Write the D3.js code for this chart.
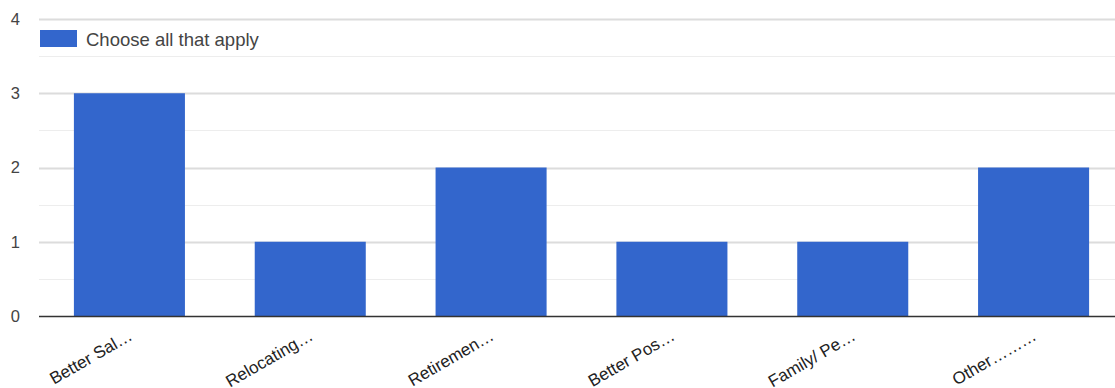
<!DOCTYPE html>
<html><head><meta charset="utf-8">
<script src="https://cdn.jsdelivr.net/npm/d3@7"></script>
<style>body{margin:0;background:#fff}svg{display:block}</style>
</head><body>
<script>
const categories = ["Better Sal…", "Relocating…", "Retiremen…", "Better Pos…", "Family/ Pe…", "Other………"];
const values = [3, 1, 2, 1, 1, 2];
const yTicks = [0, 1, 2, 3, 4];
const seriesName = "Choose all that apply";

(function () {
const W = 1115, H = 388;
const FONT = "Liberation Sans, Arial, sans-serif";
const svg = d3.select("body").append("svg").attr("width", W).attr("height", H);
const pLeft = 39, pRight = 1124, pTop = 19, pBottom = 316;
const x = d3.scaleBand().domain(categories).range([pLeft, pRight]).paddingInner(0.386).paddingOuter(0.193);
const y = d3.scaleLinear().domain([0, 4]).range([pBottom, pTop]);

// minor gridlines
svg.append("g").selectAll("line").data(d3.range(0.5, 4, 1)).join("line")
  .attr("x1", pLeft).attr("x2", W).attr("y1", d => Math.round(y(d)) + 0.5).attr("y2", d => Math.round(y(d)) + 0.5)
  .attr("stroke", "#ededed").attr("stroke-width", 1);
// major gridlines
svg.append("g").selectAll("line").data(yTicks.filter(d => d > 0)).join("line")
  .attr("x1", pLeft).attr("x2", W).attr("y1", d => Math.round(y(d)) + 0.5).attr("y2", d => Math.round(y(d)) + 0.5)
  .attr("stroke", "#dcdcdc").attr("stroke-width", 2);

// y labels
svg.append("g").selectAll("text").data(yTicks).join("text")
  .attr("x", 20).attr("y", d => y(d)).attr("dy", "0.35em")
  .attr("text-anchor", "end")
  .attr("font-family", FONT).attr("font-size", 16.5).attr("fill", "#444")
  .text(d => d);

// bars
svg.append("g").selectAll("rect").data(values).join("rect")
  .attr("x", (d, i) => x(categories[i])).attr("width", x.bandwidth())
  .attr("y", d => y(d)).attr("height", d => y(0) - y(d))
  .attr("fill", "#3366cc");

// baseline
svg.append("line").attr("x1", pLeft).attr("x2", W).attr("y1", y(0) + 0.5).attr("y2", y(0) + 0.5)
  .attr("stroke", "#333").attr("stroke-width", 1.5);

// x labels
svg.append("g").selectAll("text").data(categories).join("text")
  .attr("transform", d => `translate(${x(d) + x.bandwidth() / 2 + 4},${y(0) + 23}) rotate(-30)`)
  .attr("text-anchor", "end")
  .attr("font-family", FONT).attr("font-size", 17).attr("fill", "#222")
  .text(d => d);

// legend
svg.append("rect").attr("x", 40).attr("y", 30).attr("width", 37).attr("height", 17).attr("fill", "#3366cc");
svg.append("text").attr("x", 86).attr("y", 45.5)
  .attr("font-family", FONT).attr("font-size", 18.5).attr("fill", "#444")
  .text(seriesName);
})();
</script>
</body></html>
